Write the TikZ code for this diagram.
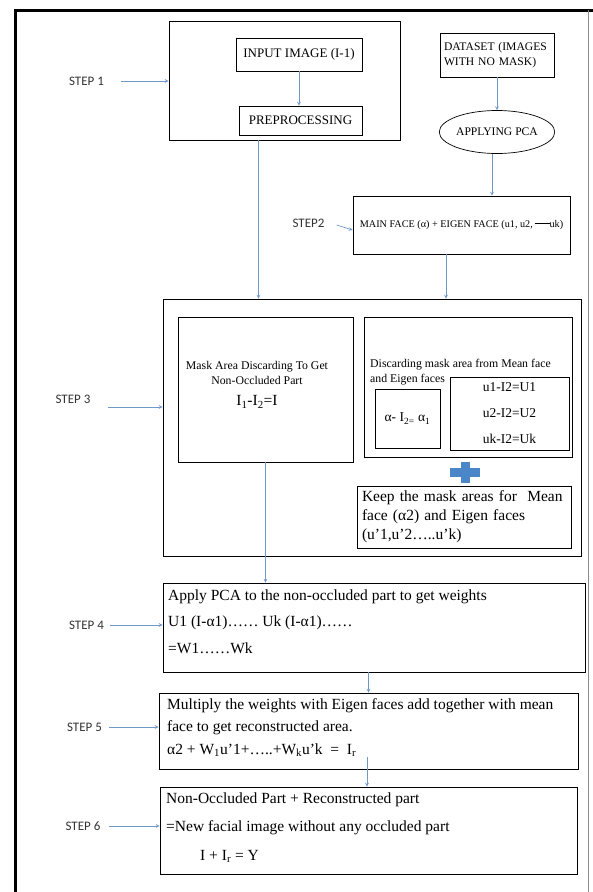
\documentclass[tikz,border=0pt]{standalone}
\usepackage{fontspec}
\setmainfont{Liberation Serif}
\newfontfamily\stepfont{Carlito}
\usetikzlibrary{shapes.geometric}
\definecolor{linkblue}{RGB}{112,152,200}
\definecolor{plusblue}{RGB}{74,134,200}

\begin{document}
\begin{tikzpicture}[x=1pt,y=-1pt,every node/.style={inner sep=0pt},
    box/.style={draw,line width=0.9pt},
    steplbl/.style={font=\stepfont\fontsize{13}{15}\selectfont,text=black!80},
    flow/.style={->,>=stealth,draw=linkblue,line width=0.7pt},
    caps/.style={font=\fontsize{13}{15}\selectfont},
    small/.style={font=\fontsize{11.8}{15}\selectfont},
    big/.style={font=\fontsize{15.5}{19}\selectfont}]
  \useasboundingbox (0,0) rectangle (593,892);
  % frame
  \draw[line width=3pt] (15,893) -- (15,10) -- (594,10);
  \draw[black!45,line width=0.6pt] (588,10) -- (588,893);

  % step 1
  \node[box,minimum width=231pt,minimum height=119pt] (S1) at (284.5,80.5) {};
  \node[box,caps,minimum width=126pt,minimum height=33pt] (In) at (299,54.5) {INPUT IMAGE (I-1)};
  \node[box,caps,minimum width=123pt,minimum height=29pt] (Pre) at (300.5,120.5) {PREPROCESSING};
  \node[box,align=left,font=\fontsize{11.6}{15}\selectfont,text width=106pt,minimum width=114pt,minimum height=44pt] (Data) at (497,55) {DATASET (IMAGES\\WITH NO MASK)};
  \node[draw,ellipse,line width=0.7pt,font=\fontsize{11.6}{14}\selectfont,minimum width=107pt,minimum height=43pt] (Pca) at (497,132) {APPLYING PCA};

  % step 2
  \node[box,font=\fontsize{10.2}{12}\selectfont,minimum width=217pt,minimum height=58pt] (S2) at (461.5,225) {MAIN FACE (α) + EIGEN FACE (u1, u2,\,\rule[0.8ex]{15pt}{0.5pt}uk)};

  % step 3
  \node[box,minimum width=418pt,minimum height=257pt] (S3) at (372,427.5) {};
  \node[box,minimum width=175pt,minimum height=145pt] (Mask) at (265.5,389.5) {};
  \node[small,align=center] (MaskTxt) at (257,372.5) {Mask Area Discarding To Get\\Non-Occluded Part};
  \node[big] (MaskEq) at (257,402) {I\textsubscript{1}-I\textsubscript{2}=I};
  \node[box,minimum width=208pt,minimum height=140pt] (Disc) at (468,387) {};
  \node[small,align=left,anchor=west] (DiscTxt) at (370,372.5) {Discarding mask area from Mean face\\and Eigen faces};
  \node[box,font=\fontsize{13.5}{16}\selectfont,minimum width=65pt,minimum height=59pt] (Alpha) at (407.5,418.5) {α- I\textsubscript{2=} α\textsubscript{1}};
  \node[box,font=\fontsize{13.5}{26}\selectfont,align=center,minimum width=119pt,minimum height=73pt] (U) at (509.5,413.5) {u1-I2=U1\\u2-I2=U2\\uk-I2=Uk};
  \fill[plusblue] (450,468) rectangle (480,477);
  \fill[plusblue] (460.5,461.5) rectangle (469.5,482.5);
  \node[box,big,align=left,text width=204pt,minimum width=214pt,minimum height=62pt] (Keep) at (464,517) {Keep the mask areas for\ \ Mean\\face (α2) and Eigen faces\\(u’1,u’2…..u’k)};

  % steps 4 to 6
  \node[box,minimum width=422pt,minimum height=89pt] (S4) at (374,627.5) {};
  \node[align=left,anchor=west,font=\fontsize{15.5}{26.5}\selectfont] (S4Txt) at (168,621.5) {Apply PCA to the non-occluded part to get weights\\U1 (I-α1)…… Uk (I-α1)……\\=W1……Wk};
  \node[box,minimum width=419pt,minimum height=76pt] (S5) at (368.5,731) {};
  \node[align=left,anchor=west,font=\fontsize{15.5}{22.5}\selectfont] (S5Txt) at (167,727.5) {Multiply the weights with Eigen faces add together with mean\\face to get reconstructed area.\\α2 + W\textsubscript{1}u’1+…..+W\textsubscript{k}u’k\ \ =\ \ I\textsubscript{r}};
  \node[box,minimum width=417pt,minimum height=87pt] (S6) at (368.5,830.5) {};
  \node[align=left,anchor=west,font=\fontsize{15.5}{28.5}\selectfont] (S6Txt) at (166,827.5) {Non-Occluded Part + Reconstructed part\\=New facial image without any occluded part\\\hspace*{34pt}I + I\textsubscript{r} = Y};
  \coordinate (Ir) at (367,757);

  % step labels
  \node[steplbl] (St1) at (86.5,81) {STEP 1};
  \node[steplbl] (St2) at (308.5,223) {STEP2};
  \node[steplbl] (St3) at (73,399) {STEP 3};
  \node[steplbl] (St4) at (86.5,625) {STEP 4};
  \node[steplbl] (St5) at (84.5,727) {STEP 5};
  \node[steplbl] (St6) at (83,826) {STEP 6};

  \draw[flow] ([xshift=17pt]St1.east) -- (St1.east -| S1.west);
  \draw[flow] ([xshift=12pt,yshift=-2pt]St2.east) -- ([yshift=-5pt]S2.west);
  \draw[flow] ([xshift=17pt,yshift=-8pt]St3.east) -- ([yshift=-8pt]St3.east -| S3.west);
  \draw[flow] ([xshift=6pt]St4.east) -- (St4.east -| S4.west);
  \draw[flow] ([xshift=7pt]St5.east) -- (St5.east -| S5.west);
  \draw[flow] ([xshift=8pt]St6.east) -- (St6.east -| S6.west);

  \draw[flow] (In.south) -- (In.south |- Pre.north);
  \draw[flow] (Data.south) -- (Data.south |- Pca.north);
  \draw[flow] ([xshift=-5pt]Pca.south) -- ([xshift=-5pt]Pca.south |- S2.north);
  \draw[flow] ([xshift=-26pt]S1.south) -- ([xshift=-26pt]S1.south |- S3.north);
  \draw[flow] ([xshift=-15.5pt]S2.south) -- ([xshift=-15.5pt]S2.south |- S3.north);
  \draw[flow] (Mask.south) -- (Mask.south |- S4.north);
  \draw[flow] (S5.north |- S4.south) -- (S5.north);
  \draw[flow] (Ir) -- (Ir |- S6.north);
\end{tikzpicture}
\end{document}
